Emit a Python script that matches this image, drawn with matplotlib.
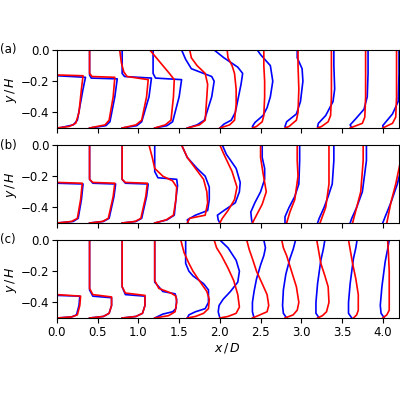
import matplotlib
matplotlib.use("Agg")
import matplotlib.pyplot as plt

plt.rcParams["mathtext.fontset"] = "dejavusans"
plt.rcParams["font.size"] = 8.5

# streamwise stations (x/D) where profiles are taken
stations = [0.0, 0.4, 0.8, 1.2, 1.6, 2.0, 2.4, 2.8, 3.2, 3.6, 4.0]

# each profile: (offset from station in x/D, y/H) points
# panel (a)
a_blue = [
    ([0.0, 0.35, 0.32, 0.25, 0.2, 0.05, 0.0], [-0.165, -0.175, -0.25, -0.45, -0.48, -0.497, -0.5]),
    ([0.0, 0.0, 0.02, 0.34, 0.31, 0.25, 0.2, 0.0], [0.0, -0.16, -0.18, -0.185, -0.3, -0.46, -0.485, -0.5]),
    ([0.0, 0.0, 0.03, 0.36, 0.33, 0.24, 0.18, 0.0], [0.0, -0.15, -0.17, -0.18, -0.3, -0.46, -0.485, -0.5]),
    ([-0.02, -0.02, 0.01, 0.33, 0.3, 0.22, 0.15, 0.0], [0.0, -0.15, -0.18, -0.19, -0.3, -0.46, -0.485, -0.5]),
    ([-0.07, -0.02, 0.05, 0.3, 0.33, 0.3, 0.21, 0.12, 0.0], [0.0, -0.06, -0.12, -0.17, -0.2, -0.3, -0.45, -0.48, -0.5]),
    ([-0.07, 0.05, 0.22, 0.28, 0.26, 0.19, 0.14, 0.05, 0.0], [0.0, -0.05, -0.11, -0.15, -0.22, -0.4, -0.45, -0.475, -0.5]),
    ([0.06, 0.1, 0.22, 0.25, 0.22, 0.18, 0.13, 0.03, 0.0, 0.02], [0.0, -0.03, -0.1, -0.2, -0.3, -0.37, -0.42, -0.465, -0.49, -0.5]),
    ([0.15, 0.15, 0.21, 0.22, 0.19, 0.14, 0.02, 0.0, 0.02], [0.0, -0.05, -0.12, -0.2, -0.33, -0.41, -0.46, -0.49, -0.5]),
    ([0.2, 0.2, 0.21, 0.19, 0.1, 0.01, 0.0, 0.02], [0.0, -0.1, -0.25, -0.33, -0.42, -0.47, -0.49, -0.5]),
    ([0.22, 0.22, 0.21, 0.17, 0.07, 0.0, 0.02], [0.0, -0.15, -0.3, -0.38, -0.44, -0.48, -0.5]),
    ([0.2, 0.2, 0.19, 0.12, 0.04, 0.0, 0.01], [0.0, -0.15, -0.33, -0.41, -0.46, -0.485, -0.5]),
]
a_red = [
    ([0.0, 0.32, 0.3, 0.27, 0.23, 0.15, 0.0], [-0.16, -0.165, -0.25, -0.4, -0.47, -0.49, -0.5]),
    ([0.0, 0.0, 0.03, 0.31, 0.29, 0.24, 0.19, 0.0], [0.0, -0.15, -0.17, -0.175, -0.3, -0.45, -0.48, -0.5]),
    ([-0.03, -0.01, 0.02, 0.06, 0.32, 0.3, 0.24, 0.17, 0.0], [0.0, -0.08, -0.14, -0.17, -0.19, -0.3, -0.45, -0.48, -0.5]),
    ([-0.06, 0.02, 0.1, 0.18, 0.24, 0.23, 0.2, 0.13, 0.0], [0.0, -0.05, -0.1, -0.15, -0.19, -0.3, -0.45, -0.48, -0.5]),
    ([0.03, 0.05, 0.12, 0.22, 0.25, 0.24, 0.22, 0.15, 0.0], [0.0, -0.05, -0.1, -0.15, -0.22, -0.3, -0.45, -0.48, -0.5]),
    ([0.09, 0.1, 0.15, 0.18, 0.2, 0.2, 0.18, 0.12, 0.0], [0.0, -0.05, -0.1, -0.15, -0.25, -0.35, -0.45, -0.48, -0.5]),
    ([0.14, 0.14, 0.15, 0.15, 0.14, 0.12, 0.05, 0.0], [0.0, -0.1, -0.2, -0.3, -0.42, -0.46, -0.49, -0.5]),
    ([0.16, 0.16, 0.17, 0.16, 0.14, 0.05, 0.0], [0.0, -0.1, -0.25, -0.4, -0.45, -0.49, -0.5]),
    ([0.17, 0.17, 0.17, 0.16, 0.13, 0.05, 0.0], [0.0, -0.1, -0.3, -0.42, -0.46, -0.49, -0.5]),
    ([0.19, 0.19, 0.19, 0.18, 0.15, 0.05, 0.0], [0.0, -0.1, -0.3, -0.43, -0.47, -0.49, -0.5]),
    ([0.17, 0.17, 0.17, 0.16, 0.12, 0.04, 0.0], [0.0, -0.1, -0.3, -0.43, -0.47, -0.49, -0.5]),
]
# panel (b)
b_blue = [
    ([0.0, 0.32, 0.3, 0.26, 0.2, 0.0], [-0.245, -0.25, -0.35, -0.47, -0.49, -0.5]),
    ([0.0, 0.0, 0.04, 0.32, 0.3, 0.24, 0.17, 0.0], [0.0, -0.22, -0.245, -0.25, -0.33, -0.47, -0.49, -0.5]),
    ([0.0, 0.0, 0.04, 0.32, 0.3, 0.24, 0.17, 0.0], [0.0, -0.22, -0.245, -0.25, -0.33, -0.47, -0.49, -0.5]),
    ([0.0, 0.0, 0.04, 0.27, 0.28, 0.26, 0.24, 0.15, 0.0], [0.0, -0.17, -0.21, -0.22, -0.26, -0.35, -0.45, -0.48, -0.5]),
    ([-0.07, 0.0, 0.12, 0.22, 0.27, 0.27, 0.25, 0.1, 0.0, 0.01], [0.0, -0.08, -0.15, -0.2, -0.27, -0.35, -0.42, -0.45, -0.48, -0.5]),
    ([0.03, 0.08, 0.2, 0.25, 0.24, 0.19, 0.05, -0.03, -0.02, 0.0], [0.0, -0.06, -0.15, -0.24, -0.3, -0.37, -0.42, -0.45, -0.48, -0.5]),
    ([0.12, 0.12, 0.15, 0.15, 0.1, 0.03, -0.02, -0.01, 0.0], [0.0, -0.08, -0.15, -0.22, -0.3, -0.37, -0.43, -0.48, -0.5]),
    ([0.18, 0.18, 0.17, 0.12, 0.05, 0.0, 0.0], [0.0, -0.1, -0.25, -0.33, -0.4, -0.46, -0.5]),
    ([0.2, 0.2, 0.18, 0.13, 0.08, 0.02, 0.0], [0.0, -0.1, -0.25, -0.33, -0.4, -0.47, -0.5]),
    ([0.2, 0.2, 0.15, 0.08, 0.02, 0.0], [0.0, -0.1, -0.3, -0.4, -0.47, -0.5]),
    ([0.27, 0.25, 0.18, 0.1, 0.03, 0.0], [0.0, -0.1, -0.25, -0.37, -0.46, -0.5]),
]
b_red = [
    ([0.0, 0.31, 0.29, 0.25, 0.18, 0.0], [-0.24, -0.245, -0.35, -0.47, -0.49, -0.5]),
    ([0.0, 0.0, 0.04, 0.31, 0.29, 0.23, 0.16, 0.0], [0.0, -0.22, -0.24, -0.245, -0.33, -0.47, -0.49, -0.5]),
    ([0.0, 0.0, 0.04, 0.31, 0.29, 0.23, 0.16, 0.0], [0.0, -0.22, -0.24, -0.245, -0.33, -0.47, -0.49, -0.5]),
    ([-0.07, -0.03, 0.0, 0.1, 0.22, 0.27, 0.26, 0.23, 0.14, 0.0], [0.0, -0.08, -0.15, -0.2, -0.23, -0.27, -0.35, -0.45, -0.48, -0.5]),
    ([-0.07, 0.0, 0.1, 0.2, 0.24, 0.25, 0.22, 0.03, 0.0], [0.0, -0.08, -0.15, -0.22, -0.3, -0.37, -0.45, -0.47, -0.5]),
    ([0.0, 0.05, 0.15, 0.21, 0.18, 0.1, 0.03, 0.0], [0.0, -0.06, -0.17, -0.27, -0.35, -0.42, -0.47, -0.5]),
    ([0.1, 0.1, 0.13, 0.17, 0.12, 0.05, 0.0], [0.0, -0.08, -0.18, -0.3, -0.38, -0.45, -0.5]),
    ([0.15, 0.15, 0.16, 0.12, 0.06, 0.02], [0.0, -0.1, -0.2, -0.35, -0.43, -0.5]),
    ([0.14, 0.14, 0.14, 0.1, 0.03], [0.0, -0.1, -0.25, -0.4, -0.5]),
    ([0.16, 0.16, 0.13, 0.07, 0.03], [0.0, -0.1, -0.3, -0.42, -0.5]),
    ([0.24, 0.22, 0.16, 0.1, 0.05], [0.0, -0.1, -0.25, -0.37, -0.5]),
]
# panel (c)
c_blue = [
    ([0.0, 0.28, 0.27, 0.24, 0.18, 0.0], [-0.355, -0.36, -0.42, -0.48, -0.493, -0.5]),
    ([0.0, 0.0, 0.04, 0.27, 0.27, 0.24, 0.17, 0.0], [0.0, -0.32, -0.36, -0.37, -0.42, -0.47, -0.49, -0.5]),
    ([0.0, 0.0, 0.04, 0.28, 0.28, 0.25, 0.17, 0.0], [0.0, -0.3, -0.35, -0.36, -0.42, -0.47, -0.49, -0.5]),
    ([0.0, 0.0, 0.1, 0.25, 0.27, 0.26, 0.22, 0.1, 0.0], [0.0, -0.27, -0.33, -0.345, -0.38, -0.44, -0.46, -0.475, -0.5]),
    ([-0.02, -0.02, 0.02, 0.07, 0.2, 0.26, 0.26, 0.22, 0.1, 0.02, 0.0], [0.0, -0.15, -0.2, -0.23, -0.28, -0.32, -0.4, -0.44, -0.46, -0.48, -0.5]),
    ([0.0, 0.1, 0.2, 0.24, 0.22, 0.13, 0.04, -0.01, -0.02, 0.0], [0.0, -0.05, -0.13, -0.2, -0.27, -0.33, -0.38, -0.42, -0.46, -0.5]),
    ([0.14, 0.16, 0.14, 0.1, 0.05, 0.02, 0.0, 0.0, 0.02], [0.0, -0.05, -0.1, -0.16, -0.25, -0.33, -0.4, -0.46, -0.5]),
    ([0.13, 0.1, 0.06, 0.01, -0.02, -0.03, -0.02, 0.02], [0.0, -0.06, -0.12, -0.22, -0.32, -0.42, -0.47, -0.5]),
    ([0.09, 0.07, 0.04, 0.0, -0.02, -0.02, 0.02], [0.0, -0.06, -0.13, -0.28, -0.4, -0.47, -0.5]),
    ([0.085, 0.07, 0.04, 0.0, -0.02, -0.02, 0.02], [0.0, -0.05, -0.12, -0.28, -0.4, -0.47, -0.5]),
    ([0.08, 0.06, 0.03, -0.01, -0.03, -0.02, 0.02], [0.0, -0.06, -0.14, -0.3, -0.42, -0.47, -0.5]),
]
c_red = [
    ([0.0, 0.29, 0.28, 0.25, 0.18, 0.0], [-0.35, -0.36, -0.42, -0.48, -0.493, -0.5]),
    ([0.0, 0.0, 0.04, 0.27, 0.27, 0.24, 0.17, 0.0], [0.0, -0.31, -0.35, -0.365, -0.42, -0.47, -0.49, -0.5]),
    ([0.0, 0.0, 0.04, 0.28, 0.28, 0.25, 0.17, 0.0], [0.0, -0.3, -0.34, -0.355, -0.42, -0.47, -0.49, -0.5]),
    ([0.0, 0.0, 0.05, 0.2, 0.26, 0.27, 0.25, 0.17, 0.0], [0.0, -0.26, -0.31, -0.34, -0.36, -0.4, -0.46, -0.485, -0.5]),
    ([-0.08, -0.04, 0.02, 0.07, 0.16, 0.24, 0.27, 0.26, 0.2, 0.1, 0.0], [0.0, -0.08, -0.15, -0.2, -0.27, -0.33, -0.38, -0.44, -0.47, -0.49, -0.5]),
    ([-0.07, -0.04, 0.02, 0.1, 0.17, 0.22, 0.24, 0.2, 0.1, 0.0], [0.0, -0.05, -0.1, -0.18, -0.26, -0.35, -0.43, -0.47, -0.49, -0.5]),
    ([-0.07, -0.04, 0.0, 0.05, 0.12, 0.18, 0.2, 0.18, 0.07, 0.0], [0.0, -0.06, -0.12, -0.2, -0.28, -0.35, -0.42, -0.46, -0.485, -0.5]),
    ([-0.04, -0.02, 0.02, 0.08, 0.14, 0.17, 0.15, 0.1, 0.0], [0.0, -0.05, -0.1, -0.2, -0.3, -0.4, -0.45, -0.48, -0.5]),
    ([-0.01, 0.01, 0.04, 0.09, 0.13, 0.14, 0.11, 0.06, 0.0], [0.0, -0.06, -0.15, -0.23, -0.3, -0.4, -0.46, -0.485, -0.5]),
    ([-0.02, 0.0, 0.03, 0.07, 0.1, 0.1, 0.08, 0.04], [0.0, -0.06, -0.15, -0.25, -0.35, -0.45, -0.48, -0.5]),
    ([0.06, 0.07, 0.08, 0.08, 0.08, 0.05, 0.0], [0.0, -0.08, -0.2, -0.35, -0.45, -0.48, -0.5]),
]

panels = [("(a)", a_blue, a_red), ("(b)", b_blue, b_red), ("(c)", c_blue, c_red)]

fig = plt.figure(figsize=(4, 4), dpi=100)
bottoms = [0.68, 0.4425, 0.205]
for (label, blues, reds), bottom in zip(panels, bottoms):
    ax = fig.add_axes([0.1425, bottom, 0.855, 0.195])
    for s, (dx, y) in zip(stations, blues):
        ax.plot([s + d for d in dx], y, color="blue", lw=1.2)
    for s, (dx, y) in zip(stations, reds):
        ax.plot([s + d for d in dx], y, color="red", lw=1.2)
    ax.set_xlim(0, 4.2)
    ax.set_ylim(-0.5, 0.0)
    ax.set_yticks([0.0, -0.2, -0.4])
    ax.set_xticks([0.0, 0.5, 1.0, 1.5, 2.0, 2.5, 3.0, 3.5, 4.0])
    ax.tick_params(pad=2)
    ax.set_ylabel(r"$y\,/\,H$", fontsize=9, labelpad=1)
    ax.text(0.0, bottom + 0.195, label, transform=fig.transFigure,
            fontsize=8.5, va="center", ha="left")
    if label != "(c)":
        ax.tick_params(labelbottom=False)
    else:
        ax.set_xlabel(r"$x\,/\,D$", fontsize=9, labelpad=2)

fig.savefig("out.png", dpi=100)
